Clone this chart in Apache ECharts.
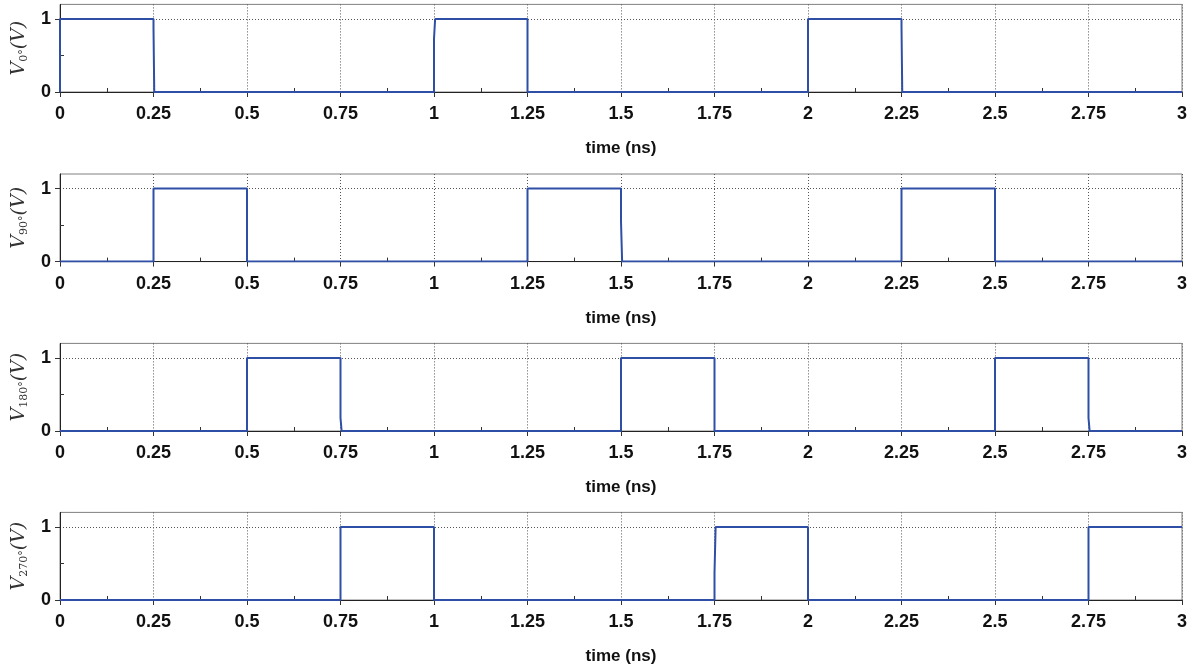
<!DOCTYPE html>
<html>
<head>
<meta charset="utf-8">
<script src="https://cdn.jsdelivr.net/npm/echarts@6/dist/echarts.min.js"></script>
<style>
  html, body { margin: 0; padding: 0; background: #fff; }
  #main { width: 1196px; height: 666px; }
</style>
</head>
<body>
<div id="main"></div>
<script>
// time points (ns) and voltages (V) for each phase
var t0 = [0, 0, 0.25, 0.25, 0.252, 0.252, 1, 1, 1.003, 1.003, 1.25, 1.25, 2, 2, 2.25, 2.25, 2.252, 2.252, 3];
var v0 = [0, 1, 1, 0.88, 0.88, 0, 0, 0.73, 0.73, 1, 1, 0, 0, 1, 1, 0.9, 0.9, 0, 0];

var t90 = [0, 0.25, 0.25, 0.5, 0.5, 1.25, 1.25, 1.5, 1.5, 1.503, 1.503, 2.25, 2.25, 2.5, 2.5, 3];
var v90 = [0, 0, 1, 1, 0, 0, 1, 1, 0.55, 0.55, 0, 0, 1, 1, 0, 0];

var t180 = [0, 0.5, 0.5, 0.75, 0.75, 0.753, 0.753, 1.5, 1.5, 1.75, 1.75, 2.5, 2.5, 2.75, 2.75, 2.753, 2.753, 3];
var v180 = [0, 0, 1, 1, 0.18, 0.18, 0, 0, 1, 1, 0, 0, 1, 1, 0.18, 0.18, 0, 0];

var t270 = [0, 0.75, 0.75, 1, 1, 1.75, 1.75, 1.753, 1.753, 2, 2, 2.75, 2.75, 3];
var v270 = [0, 0, 1, 1, 0, 0, 0.37, 0.37, 1, 1, 0, 0, 1, 1];

var phases = ['0°', '90°', '180°', '270°'];
var times = [t0, t90, t180, t270];
var volts = [v0, v90, v180, v270];

var lineColor = '#2f4fa6';
var gridTops = [4.4, 174, 343.4, 512.4];
var plotH = 87.6;

var grids = [], xAxes = [], yAxes = [], series = [];
for (var i = 0; i < 4; i++) {
  grids.push({
    left: 60, right: 14, top: gridTops[i], height: plotH,
    show: true, borderColor: '#808080', borderWidth: 1
  });
  xAxes.push({
    gridIndex: i, type: 'value', min: 0, max: 3, interval: 0.25,
    name: 'time (ns)', nameLocation: 'middle', nameGap: 48,
    nameTextStyle: { fontFamily: 'Liberation Sans', fontSize: 17, color: '#111', fontWeight: 'bold' },
    axisLine: { lineStyle: { color: '#222', width: 1 } },
    axisTick: { show: true, length: 5, lineStyle: { color: '#333' } },
    minorTick: { show: true, splitNumber: 2, length: -4, lineStyle: { color: '#333' } },
    axisLabel: { fontFamily: 'Liberation Sans', fontSize: 18, color: '#111', fontWeight: 'bold', margin: 13 },
    splitLine: { show: true, lineStyle: { color: '#555', type: [1, 2], width: 1 } }
  });
  yAxes.push({
    gridIndex: i, type: 'value', min: 0, max: 1.2, interval: 1,
    name: '{v|V}{s|' + phases[i] + '}{v|(V)}',
    nameLocation: 'middle', nameGap: 30, nameRotate: 90,
    nameTextStyle: {
      rich: {
        v: { fontFamily: 'DejaVu Serif', fontStyle: 'italic', fontSize: 19, color: '#333', lineHeight: 22 },
        s: { fontFamily: 'DejaVu Serif', fontSize: 11, color: '#333', padding: [10, 0, 0, 0] }
      }
    },
    axisLine: { show: true, lineStyle: { color: '#222', width: 1 } },
    axisTick: { show: true, length: 5, customValues: [0, 1], lineStyle: { color: '#333' } },
    minorTick: { show: true, splitNumber: 2, length: -4, lineStyle: { color: '#333' } },
    axisLabel: {
      fontFamily: 'Liberation Sans', fontSize: 18, color: '#111', fontWeight: 'bold', margin: 9,
      customValues: [0, 1]
    },
    splitLine: { show: true, lineStyle: { color: '#555', type: [1, 2], width: 1 } }
  });
  var pts = [];
  for (var k = 0; k < times[i].length; k++) pts.push([times[i][k], volts[i][k]]);
  series.push({
    type: 'line', xAxisIndex: i, yAxisIndex: i, data: pts,
    showSymbol: false, symbol: 'none', animation: false,
    lineStyle: { color: lineColor, width: 2 }
  });
}

var chart = echarts.init(document.getElementById('main'));
chart.setOption({
  backgroundColor: '#ffffff',
  animation: false,
  grid: grids,
  xAxis: xAxes,
  yAxis: yAxes,
  series: series
});
</script>
</body>
</html>
